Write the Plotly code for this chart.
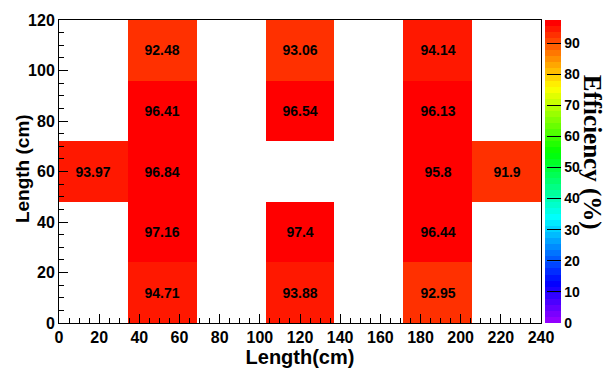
import colorsys
import plotly.graph_objects as go

# Bin edges of the 2D map (cm)
x_edges = [0, 240 / 7, 480 / 7, 720 / 7, 960 / 7, 1200 / 7, 1440 / 7, 240]
y_edges = [0, 24, 48, 72, 96, 120]

# Efficiency per cell (%), rows from bottom (y=0) to top (y=120); None = no data
row_0_24 = [None, 94.71, None, 93.88, None, 92.95, None]
row_24_48 = [None, 97.16, None, 97.4, None, 96.44, None]
row_48_72 = [93.97, 96.84, None, None, None, 95.8, 91.9]
row_72_96 = [None, 96.41, None, 96.54, None, 96.13, None]
row_96_120 = [None, 92.48, None, 93.06, None, 94.14, None]

z = [row_0_24, row_24_48, row_48_72, row_72_96, row_96_120]
labels = [["" if v is None else f"{v:g}" for v in row] for row in z]

z_min = 0.0
z_max = max(v for row in z for v in row if v is not None)

# 50-step violet -> red "pretty" palette (HLS, fixed lightness/saturation)
n_col = 50
palette = []
for i in range(n_col):
    hue = 280 - (i + 1) * (280 / n_col) if i < n_col - 1 else 0.0
    r, g, b = colorsys.hls_to_rgb(hue / 360.0, 0.5, 1.0)
    palette.append(f"rgb({round(r * 255)},{round(g * 255)},{round(b * 255)})")
colorscale = []
for i, c in enumerate(palette):
    colorscale.append([i / n_col, c])
    colorscale.append([(i + 1) / n_col, c])

sans = "Liberation Sans, Arial, sans-serif"
serif = "Liberation Serif, Times New Roman, serif"

L, R, T, B = 59, 67, 12, 49
W, H = 608, 376
plot_w = W - L - R
plot_h = H - T - B


def px_x(p):
    return (p - L) / plot_w


def px_y(p):
    return (H - B - p) / plot_h


fig = go.Figure(
    go.Heatmap(
        x=x_edges,
        y=y_edges,
        z=z,
        zmin=z_min,
        zmax=z_max,
        colorscale=colorscale,
        text=labels,
        texttemplate="%{text}",
        textfont=dict(family=sans, size=14, color="black", weight="bold"),
        hoverongaps=False,
        colorbar=dict(
            thickness=16,
            thicknessmode="pixels",
            len=1,
            lenmode="fraction",
            x=px_x(545),
            xanchor="left",
            xpad=0,
            y=0.5,
            yanchor="middle",
            ypad=0,
            outlinewidth=0,
            tick0=0,
            dtick=10,
            ticks="inside",
            ticklen=14,
            tickwidth=1,
            tickcolor="black",
            tickfont=dict(family=sans, size=14, color="black", weight="bold"),
        ),
    )
)

axis_common = dict(
    showgrid=False,
    zeroline=False,
    showline=True,
    linecolor="black",
    linewidth=1,
    mirror=True,
    ticks="inside",
    tickcolor="black",
    tickwidth=1,
    ticklen=9,
    tick0=0,
    dtick=20,
    minor=dict(ticks="inside", ticklen=5, dtick=5, tickcolor="black", tickwidth=1),
    tickfont=dict(family=sans, size=16, color="black", weight="bold"),
)

fig.update_xaxes(
    range=[0, 240],
    title=dict(text="Length(cm)", font=dict(family=sans, size=20, color="black", weight="bold"), standoff=4),
    **axis_common,
)
fig.update_yaxes(range=[0, 120], **axis_common)

# Y-axis title
fig.add_annotation(
    text="Length (cm)",
    xref="paper",
    yref="paper",
    x=px_x(22),
    y=px_y(167),
    xanchor="center",
    yanchor="middle",
    showarrow=False,
    textangle=-90,
    font=dict(family=sans, size=19, color="black", weight="bold"),
)

# Colour-bar title
fig.add_annotation(
    text="Efficiency (%)",
    xref="paper",
    yref="paper",
    x=px_x(592),
    y=px_y(149),
    xanchor="center",
    yanchor="middle",
    showarrow=False,
    textangle=90,
    font=dict(family=serif, size=25, color="black", weight="bold"),
)

fig.update_layout(
    width=W,
    height=H,
    margin=dict(l=L, r=R, t=T, b=B),
    paper_bgcolor="white",
    plot_bgcolor="white",
)

fig.write_html("out.html")
